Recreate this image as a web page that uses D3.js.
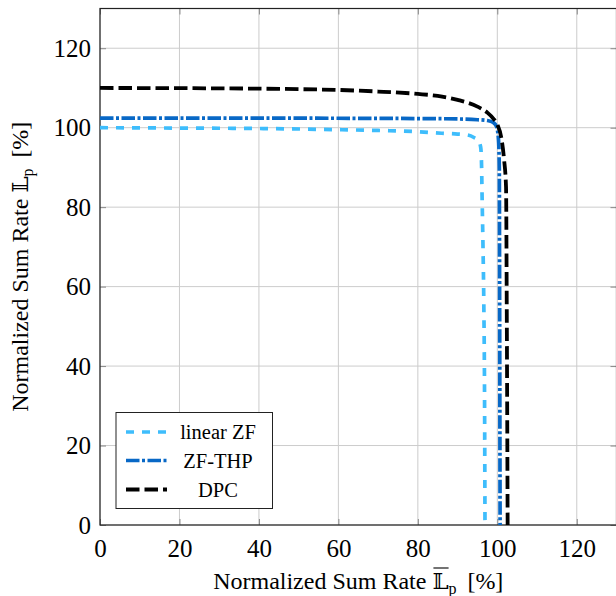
<!DOCTYPE html>
<html><head><meta charset="utf-8">
<script src="https://cdn.jsdelivr.net/npm/d3@7"></script>
<style>body{margin:0;background:#fff}svg{display:block}</style>
</head><body><svg id="c" width="616" height="596"></svg>
<script>
const xTicks = [0, 20, 40, 60, 80, 100, 120];
const yTicks = [0, 20, 40, 60, 80, 100, 120];
const seriesNames = ["linear ZF", "ZF-THP", "DPC"];
const linearZF_x = [0, 20, 40, 60, 70, 80, 86, 90, 92.3, 94.0, 95.2, 95.8, 96.0, 96.2, 96.4, 96.6, 96.8, 96.9];
const linearZF_y = [100.0, 99.9, 99.8, 99.5, 99.3, 99.0, 98.6, 98.4, 98.2, 97.6, 96.7, 95.2, 92, 81, 70, 56, 30, 0];
const zfTHP_x = [0, 40, 80, 90, 95, 97.5, 99, 99.8, 100.3, 100.5, 100.6, 100.7];
const zfTHP_y = [102.4, 102.4, 102.3, 102.2, 102.0, 101.8, 101.3, 100.3, 97, 90, 50, 0];
const dpc_x = [0, 30, 50, 60, 70, 80, 85, 90, 95, 97.5, 99, 100, 101, 101.7, 102.2, 102.4, 102.6];
const dpc_y = [110, 109.9, 109.7, 109.5, 109.1, 108.5, 108.0, 107.0, 105.3, 103.8, 102.3, 100.8, 97.5, 92, 85, 50, 0];

const series = [
  {name: seriesNames[0], xs: linearZF_x, ys: linearZF_y, color: "#3ebdfc", dash: "8,8", w: 3.7},
  {name: seriesNames[1], xs: zfTHP_x, ys: zfTHP_y, color: "#0868c6", dash: "13.5,2.5,3,2.5", w: 3.7},
  {name: seriesNames[2], xs: dpc_x, ys: dpc_y, color: "#000000", dash: "13.5,5", w: 3.8}
];

const svg = d3.select("#c");
const L = 100, R = 616.5, T = 8.5, B = 525;
const x = d3.scaleLinear().domain([0, 130]).range([L, R]);
const y = d3.scaleLinear().domain([0, 130]).range([B, T]);
const serif = "'Liberation Serif','Times New Roman',serif";

svg.append("defs").append("clipPath").attr("id", "clip")
  .append("rect").attr("x", L).attr("y", T).attr("width", R - L).attr("height", B - T);

// grid
const g = svg.append("g");
g.selectAll(".gx").data(xTicks).join("line")
  .attr("x1", d => x(d)).attr("x2", d => x(d)).attr("y1", T).attr("y2", B)
  .attr("stroke", "#cccccc").attr("stroke-width", 1);
g.selectAll(".gy").data(yTicks).join("line")
  .attr("y1", d => y(d)).attr("y2", d => y(d)).attr("x1", L).attr("x2", R)
  .attr("stroke", "#cccccc").attr("stroke-width", 1);

// axes with inner ticks
const xAxis = d3.axisBottom(x).tickValues(xTicks).tickSize(-6).tickPadding(14).tickFormat(d3.format("d"));
const yAxis = d3.axisLeft(y).tickValues(yTicks).tickSize(-6).tickPadding(9).tickFormat(d3.format("d"));
const xa = svg.append("g").attr("transform", `translate(0,${B})`).call(xAxis);
const ya = svg.append("g").attr("transform", `translate(${L},0)`).call(yAxis);
[xa, ya].forEach(a => {
  a.select(".domain").remove();
  a.selectAll(".tick line").attr("stroke", "#888").attr("stroke-width", 1);
  a.selectAll("text").attr("font-family", serif).attr("font-size", 25).attr("fill", "#000");
});
// top/right ticks
svg.append("g").attr("transform", `translate(0,${T})`).call(d3.axisTop(x).tickValues(xTicks).tickSize(-6).tickFormat(""))
  .call(a => { a.select(".domain").remove(); a.selectAll(".tick line").attr("stroke", "#888"); });
svg.append("g").attr("transform", `translate(${R},0)`).call(d3.axisRight(y).tickValues(yTicks).tickSize(-6).tickFormat(""))
  .call(a => { a.select(".domain").remove(); a.selectAll(".tick line").attr("stroke", "#888"); });

// frame
svg.append("rect").attr("x", L).attr("y", T).attr("width", R - L).attr("height", B - T)
  .attr("fill", "none").attr("stroke", "#222").attr("stroke-width", 1.2);

// curves
const line = d3.line().x(d => x(d[0])).y(d => y(d[1])).curve(d3.curveMonotoneX);
const cg = svg.append("g").attr("clip-path", "url(#clip)");
series.forEach(s => {
  cg.append("path").datum(s.xs.map((v, i) => [v, s.ys[i]]))
    .attr("d", line).attr("fill", "none").attr("stroke", s.color)
    .attr("stroke-width", s.w).attr("stroke-dasharray", s.dash);
});

// legend
const lg = svg.append("g");
lg.append("rect").attr("x", 116).attr("y", 412.5).attr("width", 156.5).attr("height", 96)
  .attr("fill", "#fff").attr("stroke", "#222").attr("stroke-width", 1);
const rowY = [432, 460.5, 489.5];
series.forEach((s, i) => {
  lg.append("line").attr("x1", 126).attr("x2", 167).attr("y1", rowY[i]).attr("y2", rowY[i])
    .attr("stroke", s.color).attr("stroke-width", s.w).attr("stroke-dasharray", s.dash);
  lg.append("text").attr("x", 218).attr("y", rowY[i] + 7).attr("text-anchor", "middle")
    .attr("font-family", serif).attr("font-size", 20.5).text(s.name);
});

// axis labels
const dbl = "'DejaVu Serif','DejaVu Sans',serif";
function axisLabel(parent, overline) {
  const t = parent.append("text").attr("font-family", serif).attr("font-size", 24).attr("fill", "#000");
  const pre = t.append("tspan").text("Normalized Sum Rate ");
  const Ls = t.append("tspan").attr("font-family", dbl).attr("font-size", 23).text("\u{1D543}");
  t.append("tspan").attr("font-size", 16).attr("dy", 5).text("p");
  t.append("tspan").attr("dy", -5).text("\u00a0\u2009[%]");
  const total = t.node().getComputedTextLength();
  t.attr("x", -total / 2);
  if (overline) {
    const a = -total / 2 + pre.node().getComputedTextLength();
    const w = Ls.node().getComputedTextLength();
    parent.append("line").attr("x1", a + 1).attr("x2", a + w).attr("y1", -21).attr("y2", -21)
      .attr("stroke", "#000").attr("stroke-width", 1.1);
  }
}
axisLabel(svg.append("g").attr("transform", `translate(${(L + R) / 2},589)`), true);
axisLabel(svg.append("g").attr("transform", `translate(28,${(T + B) / 2}) rotate(-90)`), false);
</script></body></html>
